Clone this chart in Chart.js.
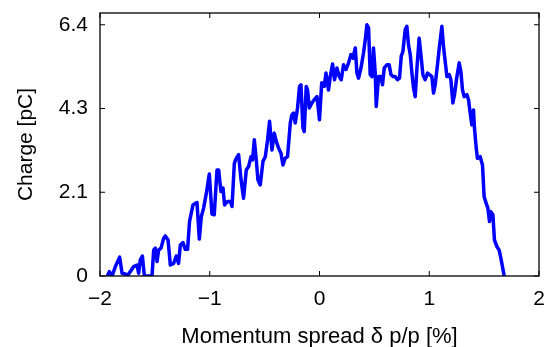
<!DOCTYPE html>
<html><head><meta charset="utf-8">
<script src="https://cdn.jsdelivr.net/npm/chart.js@4/dist/chart.umd.min.js"></script>
<style>html,body{margin:0;padding:0;background:#fff}#wrap{width:551px;height:347px}</style>
</head><body><div id="wrap"><canvas id="c"></canvas></div>
<script>
const momentum = [-1.933,-1.915,-1.890,-1.860,-1.821,-1.799,-1.769,-1.754,-1.724,-1.693,-1.663,-1.648,-1.633,-1.614,-1.596,-1.526,-1.511,-1.496,-1.480,-1.466,-1.444,-1.420,-1.405,-1.380,-1.359,-1.329,-1.305,-1.284,-1.268,-1.244,-1.223,-1.202,-1.184,-1.153,-1.132,-1.116,-1.095,-1.077,-1.056,-1.031,-1.004,-0.980,-0.959,-0.934,-0.919,-0.898,-0.879,-0.865,-0.837,-0.813,-0.797,-0.776,-0.758,-0.737,-0.715,-0.692,-0.667,-0.646,-0.624,-0.610,-0.594,-0.576,-0.561,-0.540,-0.515,-0.494,-0.473,-0.455,-0.433,-0.412,-0.394,-0.373,-0.351,-0.333,-0.312,-0.291,-0.266,-0.251,-0.236,-0.221,-0.200,-0.182,-0.169,-0.151,-0.139,-0.121,-0.109,-0.093,-0.069,-0.048,-0.023,0.000,0.020,0.043,0.059,0.082,0.098,0.119,0.137,0.159,0.180,0.198,0.219,0.241,0.265,0.286,0.305,0.326,0.341,0.356,0.378,0.401,0.417,0.432,0.447,0.462,0.478,0.492,0.508,0.517,0.538,0.560,0.574,0.590,0.614,0.635,0.651,0.669,0.690,0.711,0.729,0.745,0.760,0.781,0.796,0.811,0.827,0.842,0.857,0.872,0.888,0.908,0.924,0.942,0.963,0.984,1.002,1.024,1.039,1.054,1.075,1.093,1.115,1.130,1.145,1.161,1.182,1.197,1.215,1.230,1.252,1.273,1.288,1.303,1.318,1.343,1.358,1.373,1.388,1.403,1.412,1.428,1.439,1.464,1.485,1.500,1.519,1.534,1.549,1.561,1.580,1.594,1.616,1.637,1.653,1.667,1.683];
const charge = [0,0.11,0,0.24,0.48,0.07,0.05,0,0.11,0.24,0.28,0.07,0.41,0.51,0,0,0.66,0.71,0.37,0.66,0.71,0.96,1.02,0.92,0.28,0.32,0.51,0.32,0.79,0.85,0.68,0.68,1.39,1.81,1.85,1.87,0.94,1.51,1.73,2.11,2.60,1.58,1.56,2.70,2.70,2.15,2.24,1.81,1.90,1.90,1.77,2.87,3.00,3.09,2.45,1.98,2.70,2.79,3.04,2.96,3.47,2.96,2.45,2.32,2.92,3.04,3.47,3.94,3.21,3.64,3.43,3.26,3.13,2.83,3.00,3.04,3.90,4.11,4.15,3.90,4.28,4.83,4.87,3.77,3.68,4.83,4.74,4.28,4.41,4.49,4.57,3.98,4.92,4.83,5.17,4.74,5.08,5.40,5.00,5.30,5.08,5.00,5.38,5.26,5.43,5.64,5.55,5.81,5.17,5.04,5.30,5.68,6.02,6.40,6.32,5.13,5.08,5.81,5.17,4.32,5.08,5.08,4.87,5.30,5.38,5.38,5.13,5.08,5.08,5.00,5.04,5.60,5.72,6.28,6.36,5.89,5.64,5.17,4.79,4.57,5.30,6.06,5.64,5.13,5.00,5.17,5.13,5.08,4.66,4.87,5.38,5.85,6.36,5.85,5.47,5.08,5.13,5.00,4.41,4.62,5.08,5.43,5.21,4.74,4.57,4.62,4.49,4.15,3.85,4.23,3.77,3.26,3.00,3.04,2.83,2.02,1.85,1.73,1.39,1.64,1.56,0.92,0.75,0.66,0.45,0.24,0];
const xTickValues = [-2,-1,0,1,2];
const xTickLabels = ['\u22122','\u22121','0','1','2'];
const yTickValues = [0, 6.4/3, 12.8/3, 6.4];
const yTickLabels = ['0','2.1','4.3','6.4'];

const points = momentum.map((x,i)=>({x:x, y:charge[i]}));
const FONT = "'Liberation Sans', Arial, Helvetica, sans-serif";

const boxPlugin = {
  id:'box',
  afterDraw(chart){
    const {ctx, chartArea:a, scales:{x,y}} = chart;
    ctx.save();
    ctx.strokeStyle='#000'; ctx.lineWidth=1.3;
    ctx.strokeRect(a.left, a.top, a.right-a.left, a.bottom-a.top);
    const L=5;
    ctx.beginPath();
    xTickValues.forEach(v=>{const px=x.getPixelForValue(v);
      ctx.moveTo(px,a.bottom); ctx.lineTo(px,a.bottom-L);
      ctx.moveTo(px,a.top); ctx.lineTo(px,a.top+L);});
    yTickValues.forEach(v=>{const py=y.getPixelForValue(v);
      ctx.moveTo(a.left,py); ctx.lineTo(a.left+L,py);
      ctx.moveTo(a.right,py); ctx.lineTo(a.right-L,py);});
    ctx.lineWidth=1; ctx.stroke();
    ctx.restore();
  }
};

new Chart(document.getElementById('c'), {
  type:'scatter',
  data:{datasets:[{data:points, showLine:true, borderColor:'#0000ff', backgroundColor:'#0000ff',
    borderWidth:3.5, pointRadius:0, tension:0, borderJoinStyle:'round', borderCapStyle:'round'}]},
  options:{
    responsive:true, maintainAspectRatio:false, animation:false,
    layout:{padding:{top:13,right:12,left:0,bottom:0}},
    plugins:{legend:{display:false}, tooltip:{enabled:false}},
    scales:{
      x:{type:'linear', min:-2, max:2,
        grid:{display:false, drawTicks:false}, border:{display:false},
        afterBuildTicks:s=>{s.ticks = xTickValues.map(v=>({value:v}));},
        afterFit:s=>{s.height=71; s.paddingLeft=0; s.paddingRight=0;},
        ticks:{padding:11, color:'#000', font:{family:FONT, size:21},
          callback:(v,i)=>xTickLabels[i], maxRotation:0, autoSkip:false},
        title:{display:true, text:'Momentum spread \u03b4 p/p [%]', color:'#000',
          font:{family:FONT, size:22, lineHeight:1}, padding:{top:0,bottom:-1}}
      },
      y:{type:'linear', min:0, max:6.7,
        grid:{display:false, drawTicks:false}, border:{display:false},
        afterBuildTicks:s=>{s.ticks = yTickValues.map(v=>({value:v}));},
        afterFit:s=>{s.width=100; s.paddingTop=0; s.paddingBottom=0;},
        ticks:{padding:12, color:'#000', font:{family:FONT, size:21},
          callback:(v,i)=>yTickLabels[i], autoSkip:false},
        title:{display:true, text:'Charge [pC]', color:'#000',
          font:{family:FONT, size:21, lineHeight:1.2}, padding:{top:14,bottom:0}}
      }
    }
  },
  plugins:[boxPlugin]
});
</script></body></html>
